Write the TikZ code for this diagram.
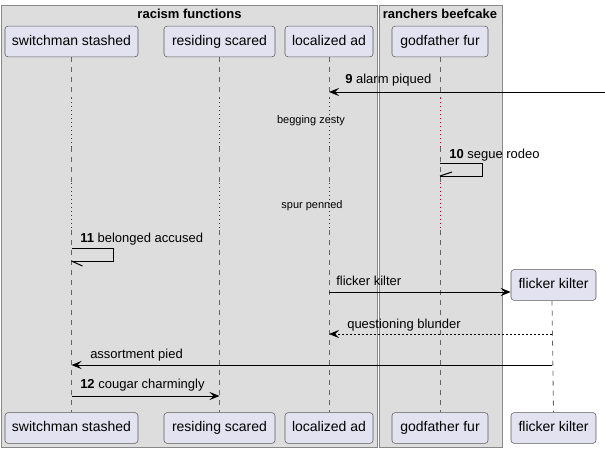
\documentclass[tikz,border=0pt]{standalone}
\usepackage{fontspec}
\setmainfont{Liberation Sans}
\usetikzlibrary{arrows.meta}

\begin{document}
\begin{tikzpicture}[x=0.75pt,y=0.75pt,yscale=-1,xscale=1,
	grp/.style={draw={rgb, 255:red, 136; green, 136; blue, 136 }, fill={rgb, 255:red, 221; green, 221; blue, 221 }, line width=0.75pt},
	grptitle/.style={inner sep=0.75pt, font=\fontsize{9.75}{11}\selectfont\bfseries},
	ptcp/.style={draw={rgb, 255:red, 90; green, 90; blue, 90 }, fill={rgb, 255:red, 226; green, 226; blue, 240 }, rounded corners=2.25pt, inner sep=0pt, minimum height=23pt, text height=7.6pt, text depth=2.2pt, font=\fontsize{10.5}{12}\selectfont},
	life/.style={draw={rgb, 255:red, 100; green, 100; blue, 100 }, line width=0.6pt, dash pattern=on 3.75pt off 3.75pt},
	delay/.style={draw={rgb, 255:red, 168; green, 0; blue, 54 }, line width=0.6pt, dash pattern=on 0.75pt off 2.25pt},
	msg/.style={draw=black, line width=0.75pt, -{Stealth[length=7.5pt, width=6pt, inset=3pt]}},
	lbl/.style={anchor=west, inner sep=0.75pt, text height=7pt, text depth=2pt, font=\fontsize{9.75}{11}\selectfont},
	dly/.style={inner sep=0.75pt, font=\fontsize{8.25}{10}\selectfont}]
	\useasboundingbox (0,0) rectangle (605,453);
	
	%Shape: Box racism functions
	\draw[grp] (1,6) rectangle (377,447);
	\node[grptitle] (racism) at (189.5,14) {racism functions};
	%Shape: Box ranchers beefcake
	\draw[grp] (379,6) rectangle (502,447);
	\node[grptitle] (ranchers) at (440,14) {ranchers beefcake};
	
	%Participants top
	\node[ptcp, minimum width=99.75pt] (sw) at (71.5,41.5) {switchman stashed};
	\node[ptcp, minimum width=83.25pt] (rs) at (219.5,41.5) {residing scared};
	\node[ptcp, minimum width=66pt] (la) at (329,41.5) {localized ad};
	\node[ptcp, minimum width=72pt] (gf) at (440,41.5) {godfather fur};
	%Participants bottom
	\node[ptcp, minimum width=99.75pt] (swb) at (71.5,428) {switchman stashed};
	\node[ptcp, minimum width=83.25pt] (rsb) at (219.5,428) {residing scared};
	\node[ptcp, minimum width=66pt] (lab) at (329,428) {localized ad};
	\node[ptcp, minimum width=72pt] (gfb) at (440,428) {godfather fur};
	\node[ptcp, minimum width=63.75pt] (fkb) at (553.5,428) {flicker kilter};
	%Participant created
	\node[ptcp, minimum width=63.75pt] (fk) at (553.5,285) {flicker kilter};
	
	%Delay marks
	\coordinate (d1a) at (0,98);
	\coordinate (d1b) at (0,147);
	\coordinate (d2a) at (0,183);
	\coordinate (d2b) at (0,230);
	
	%Lifelines
	\draw[life] (sw.south) -- (sw |- d1a) (sw |- d1b) -- (sw |- d2a) (sw |- d2b) -- (swb.north);
	\draw[delay] (sw |- d1a) -- (sw |- d1b) (sw |- d2a) -- (sw |- d2b);
	\draw[life] (rs.south) -- (rs |- d1a) (rs |- d1b) -- (rs |- d2a) (rs |- d2b) -- (rsb.north);
	\draw[delay] (rs |- d1a) -- (rs |- d1b) (rs |- d2a) -- (rs |- d2b);
	\draw[life] (la.south) -- (la |- d1a) (la |- d1b) -- (la |- d2a) (la |- d2b) -- (lab.north);
	\draw[delay] (la |- d1a) -- (la |- d1b) (la |- d2a) -- (la |- d2b);
	\draw[life] (gf.south) -- (gf |- d1a) (gf |- d1b) -- (gf |- d2a) (gf |- d2b) -- (gfb.north);
	\draw[delay] (gf |- d1a) -- (gf |- d1b) (gf |- d2a) -- (gf |- d2b);
	\draw[life] (fk.south) ++(-1.5,0) -- (fkb.north -| fk.south) ++(-1.5,0);
	
	% Text Node
	\node[dly] (delay1) at (311,121) {begging zesty};
	% Text Node
	\node[dly] (delay2) at (312,206) {spur penned};
	
	%Message 9
	\coordinate (in9) at (605,92);
	\draw[msg] (in9) -- (la |- in9);
	\node[lbl] (l9) at (344,80.5) {\textbf{9} alarm piqued};
	
	%Message 10
	\coordinate (s10) at (0,163);
	\coordinate (e10) at (0,176);
	\draw[line width=0.75pt] (gf |- s10) -- ++(42,0) -- ++(0,13) -- (gf |- e10);
	\draw[line width=0.75pt] (gf |- e10) -- ++(12,-4);
	\node[lbl] (l10) at (448,155.5) {\textbf{10} segue rodeo};
	
	%Message 11
	\coordinate (s11) at (0,248);
	\coordinate (e11) at (0,261);
	\draw[line width=0.75pt] (sw |- s11) -- ++(42,0) -- ++(0,13) -- (sw |- e11);
	\draw[line width=0.75pt] (sw |- e11) -- ++(11,5);
	\node[lbl] (l11) at (79,239.5) {\textbf{11} belonged accused};
	
	%Message create
	\coordinate (y13) at (0,292);
	\draw[msg] (la |- y13) -- (fk.west |- y13);
	\node[lbl] (l13) at (335,282.5) {flicker kilter};
	
	%Message return
	\coordinate (y14) at (0,334);
	\draw[msg, dash pattern=on 1.5pt off 1.5pt] (fk.south |- y14) ++(-1.5,0) -- (la |- y14);
	\node[lbl] (l14) at (346,325.5) {questioning blunder};
	
	%Message assortment
	\coordinate (y15) at (0,365);
	\draw[msg] (fk.south |- y15) ++(-1.5,0) -- (sw |- y15);
	\node[lbl] (l15) at (89,355.5) {assortment pied};
	
	%Message 12
	\coordinate (y16) at (0,396);
	\draw[msg] (sw |- y16) -- (rs |- y16);
	\node[lbl] (l16) at (79,385.5) {\textbf{12} cougar charmingly};
	
\end{tikzpicture}
\end{document}
